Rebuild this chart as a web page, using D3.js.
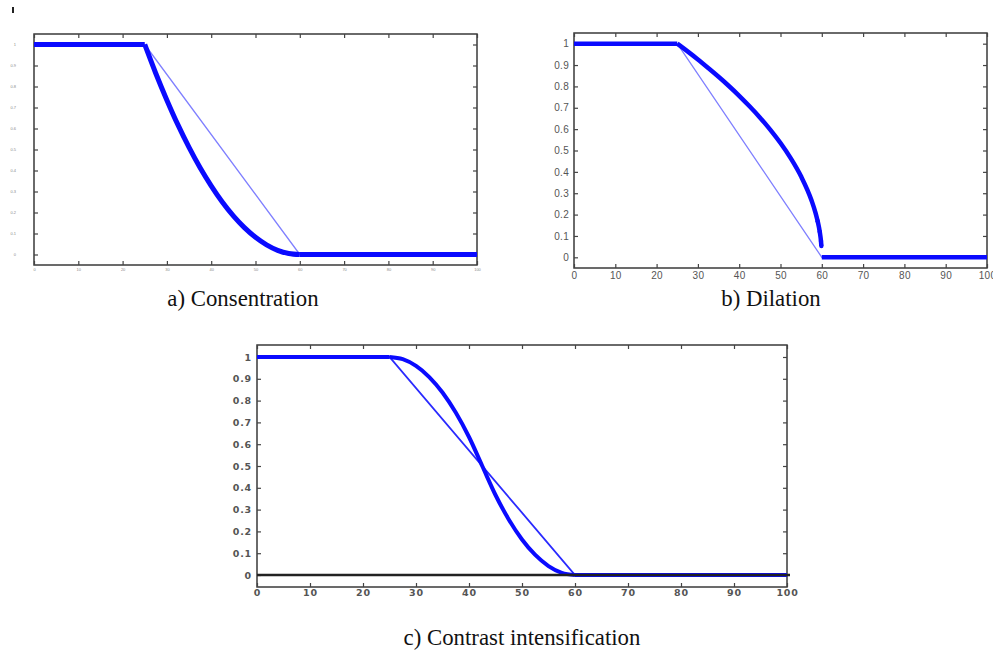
<!DOCTYPE html>
<html>
<head>
<meta charset="utf-8">
<script src="https://cdn.jsdelivr.net/npm/d3@7"></script>
<style>
  body { margin: 0; background: #fff; }
  .caption { font-family: "Liberation Serif", "Times New Roman", serif; font-size: 22.8px; fill: #111; }
</style>
</head>
<body>
<div id="chart"></div>
<script>
// tick values shared by all three panels
const xTicks = [0, 10, 20, 30, 40, 50, 60, 70, 80, 90, 100];
const yTicks = [0, 0.1, 0.2, 0.3, 0.4, 0.5, 0.6, 0.7, 0.8, 0.9, 1];

// linear membership (thin line): 1 until 25, 0 from 60
const linearX = [0, 25, 60, 100];
const linearY = [1, 1, 0, 0];

// x positions of the curved part of the hedged sets
const curveX = [25, 27.5, 30, 32.5, 35, 37.5, 40, 42.5, 45, 47.5, 50, 52.5, 55, 57.5, 60];

// a) concentration
const concentrationY = [1, 0.862, 0.735, 0.617, 0.510, 0.413, 0.327, 0.250, 0.184, 0.128, 0.082, 0.046, 0.020, 0.005, 0];

// b) dilation, steep drop near 60 so more points there
const dilationX = [25, 27.5, 30, 32.5, 35, 37.5, 40, 42.5, 45, 47.5, 50, 52.5, 55, 57.5, 58.5, 59, 59.5, 59.8, 59.9];
const dilationY = [1, 0.964, 0.926, 0.886, 0.845, 0.802, 0.756, 0.707, 0.655, 0.598, 0.535, 0.463, 0.378, 0.267, 0.207, 0.169, 0.120, 0.076, 0.053];

// c) contrast intensification
const contrastY = [1, 0.990, 0.959, 0.908, 0.837, 0.745, 0.633, 0.5, 0.367, 0.255, 0.163, 0.092, 0.041, 0.010, 0];

// flat tails of the hedged sets
const headX = [0, 25], headY = [1, 1];
const tailX = [60, 100], tailY = [0, 0];

const zip = (xs, ys) => xs.map((x, i) => [x, ys[i]]);

let svg = d3.select("#chart")
    .append("svg")
    .attr("width", 993)
    .attr("height", 653);

// small stray mark top left of the scan
svg.append("rect")
    .attr("x", 12).attr("y", 7)
    .attr("width", 2).attr("height", 6)
    .attr("fill", "#222");

// panel settings (frame boxes in page pixels)
let panels = [
    {
        box: {left: 34, right: 477, top: 34, bottom: 265},
        yDomain: [-0.05, 1.05],
        curve: zip(curveX, concentrationY),
        thick: 5, thin: 1.3, thinColor: "#7f7fff",
        font: 4, family: "'Liberation Sans', Arial, sans-serif", weight: "normal", spacing: 0,
        labelColor: "#8a8a8a", padLeft: 18, padBottom: 3,
        caption: "a) Consentration", capX: 243, capY: 306
    },
    {
        box: {left: 574, right: 987, top: 33, bottom: 268},
        yDomain: [-0.05, 1.05],
        curve: zip(dilationX, dilationY),
        dots: true,
        thick: 4.5, thin: 1.3, thinColor: "#7f7fff",
        font: 10, family: "'Liberation Sans', Arial, sans-serif", weight: "normal", spacing: 0.3,
        labelColor: "#555", padLeft: 5, padBottom: 4,
        caption: "b) Dilation", capX: 771, capY: 306
    },
    {
        box: {left: 257, right: 787, top: 345, bottom: 587},
        yDomain: [-0.055, 1.055],
        curve: zip(curveX, contrastY),
        zeroLine: true,
        thick: 4, thin: 1.8, thinColor: "#2a2aff",
        font: 9.5, family: "'DejaVu Sans', sans-serif", weight: "bold", spacing: 0.8,
        labelColor: "#555", padLeft: 5, padBottom: 2,
        caption: "c) Contrast intensification", capX: 522, capY: 645
    }
];

panels.forEach(p => {
    let b = p.box;
    let x = d3.scaleLinear().domain([0, 100]).range([b.left, b.right]);
    let y = d3.scaleLinear().domain(p.yDomain).range([b.bottom, b.top]);
    let line = d3.line().x(d => x(d[0])).y(d => y(d[1]));
    let g = svg.append("g");

    // frame
    g.append("rect")
        .attr("x", b.left).attr("y", b.top)
        .attr("width", b.right - b.left).attr("height", b.bottom - b.top)
        .attr("fill", "none").attr("stroke", "#3a3a3a").attr("stroke-width", 1.5);

    // ticks pointing inward on all four sides
    let axes = [
        {ax: d3.axisBottom(x).tickValues(xTicks), pos: `translate(0,${b.bottom})`, labels: true, pad: p.padBottom},
        {ax: d3.axisTop(x).tickValues(xTicks), pos: `translate(0,${b.top})`, labels: false, pad: 0},
        {ax: d3.axisLeft(y).tickValues(yTicks), pos: `translate(${b.left},0)`, labels: true, pad: p.padLeft},
        {ax: d3.axisRight(y).tickValues(yTicks), pos: `translate(${b.right},0)`, labels: false, pad: 0}
    ];
    axes.forEach(a => {
        let ag = g.append("g")
            .attr("transform", a.pos)
            .call(a.ax.tickSize(-4).tickSizeOuter(0).tickPadding(a.pad).tickFormat(d3.format("~g")));
        ag.select(".domain").remove();
        ag.selectAll(".tick line").attr("stroke", "#444").attr("stroke-width", 1.2);
        ag.selectAll("text")
            .attr("font-family", p.family)
            .attr("font-size", p.font)
            .attr("font-weight", p.weight)
            .attr("letter-spacing", p.spacing)
            .attr("fill", p.labelColor);
        if (!a.labels) ag.selectAll("text").remove();
    });

    // thin linear membership
    g.append("path")
        .attr("d", line(zip(linearX, linearY)))
        .attr("fill", "none")
        .attr("stroke", p.thinColor)
        .attr("stroke-width", p.thin);

    // thick hedged membership: flat head, curve, flat tail
    let thickPaths = [
        {pts: zip(headX, headY), c: d3.curveLinear},
        {pts: p.curve, c: d3.curveMonotoneX},
        {pts: zip(tailX, tailY), c: d3.curveLinear}
    ];
    thickPaths.forEach(t => {
        g.append("path")
            .attr("d", line.curve(t.c)(t.pts))
            .attr("fill", "none")
            .attr("stroke", "#0a0aff")
            .attr("stroke-width", p.thick)
            .attr("stroke-linecap", "butt");
    });
    line.curve(d3.curveLinear);

    // black zero line of panel c sits on top of the blue tail
    if (p.zeroLine) {
        g.append("line")
            .attr("x1", x(0)).attr("x2", x(100) + 3)
            .attr("y1", y(0)).attr("y2", y(0))
            .attr("stroke", "#222").attr("stroke-width", 2.5);
    }

    // scattered markers at the steep end of dilation
    if (p.dots) {
        g.selectAll("circle")
            .data(p.curve.filter(d => d[0] >= 59))
            .enter()
            .append("circle")
            .attr("cx", d => x(d[0]))
            .attr("cy", d => y(d[1]))
            .attr("r", 2.2)
            .attr("fill", "#0a0aff");
    }

    // caption under panel
    svg.append("text")
        .attr("class", "caption")
        .attr("x", p.capX)
        .attr("y", p.capY)
        .style("text-anchor", "middle")
        .text(p.caption);
});
</script>
</body>
</html>
